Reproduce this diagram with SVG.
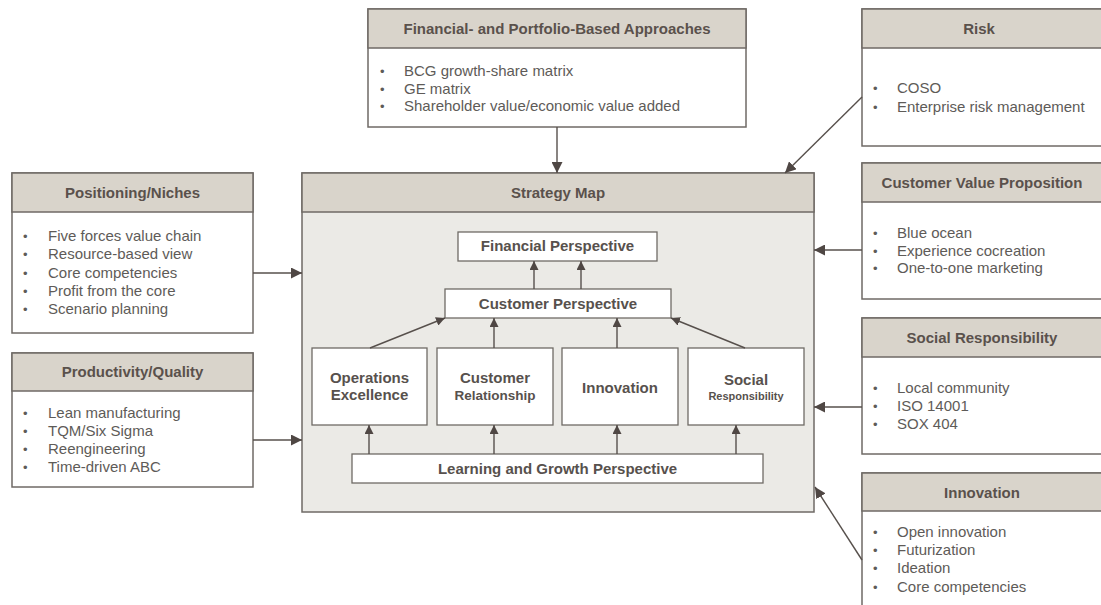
<svg xmlns="http://www.w3.org/2000/svg" width="1101" height="605" viewBox="0 0 1101 605">
<defs>
<style>
.box{fill:#ffffff;stroke:#6f6a66;stroke-width:1.5}
.hdr{fill:#d9d4cb;stroke:#6f6a66;stroke-width:1.5}
.map{fill:#ebeae6;stroke:#6f6a66;stroke-width:1.5}
.inner{fill:#ffffff;stroke:#6f6a66;stroke-width:1.3}
.ht{font-family:"Liberation Sans",Arial,sans-serif;font-weight:bold;font-size:15px;fill:#5a514c;text-anchor:middle}
.it{font-family:"Liberation Sans",Arial,sans-serif;font-size:15px;fill:#5e5b58}
.bl{font-family:"Liberation Sans",Arial,sans-serif;font-size:13px;fill:#5e5b58}
.nt{font-family:"Liberation Sans",Arial,sans-serif;font-weight:bold;font-size:15px;fill:#57514d;text-anchor:middle}
.con{fill:none;stroke:#57504c;stroke-width:1.4}
</style>
<marker id="ah" viewBox="0 0 10 10" refX="10" refY="5" markerWidth="11" markerHeight="11" markerUnits="userSpaceOnUse" orient="auto">
<path d="M0,0 L10,5 L0,10 z" fill="#4f4744"/>
</marker>
<marker id="ahs" viewBox="0 0 10 10" refX="10" refY="5" markerWidth="9" markerHeight="9" markerUnits="userSpaceOnUse" orient="auto">
<path d="M0,0 L10,5 L0,10 z" fill="#4f4744"/>
</marker>
</defs>
<rect width="1101" height="605" fill="#ffffff"/>

<g id="financial-approaches">
<rect class="box" x="368" y="9" width="378" height="118"/>
<rect class="hdr" x="368" y="9" width="378" height="39"/>
<text class="ht" x="557" y="34">Financial- and Portfolio-Based Approaches</text>
<text class="bl" x="380" y="76">•</text><text class="it" x="404" y="76">BCG growth-share matrix</text>
<text class="bl" x="380" y="94">•</text><text class="it" x="404" y="94">GE matrix</text>
<text class="bl" x="380" y="111">•</text><text class="it" x="404" y="111">Shareholder value/economic value added</text>
</g>

<g id="positioning">
<rect class="box" x="12" y="173" width="241" height="160"/>
<rect class="hdr" x="12" y="173" width="241" height="39"/>
<text class="ht" x="132.5" y="198">Positioning/Niches</text>
<text class="bl" x="23" y="241">•</text><text class="it" x="48" y="241">Five forces value chain</text>
<text class="bl" x="23" y="259">•</text><text class="it" x="48" y="259">Resource-based view</text>
<text class="bl" x="23" y="278">•</text><text class="it" x="48" y="278">Core competencies</text>
<text class="bl" x="23" y="296">•</text><text class="it" x="48" y="296">Profit from the core</text>
<text class="bl" x="23" y="314">•</text><text class="it" x="48" y="314">Scenario planning</text>
</g>

<g id="productivity">
<rect class="box" x="12" y="353" width="241" height="134"/>
<rect class="hdr" x="12" y="353" width="241" height="38"/>
<text class="ht" x="132.5" y="377">Productivity/Quality</text>
<text class="bl" x="23" y="418">•</text><text class="it" x="48" y="418">Lean manufacturing</text>
<text class="bl" x="23" y="436">•</text><text class="it" x="48" y="436">TQM/Six Sigma</text>
<text class="bl" x="23" y="454">•</text><text class="it" x="48" y="454">Reengineering</text>
<text class="bl" x="23" y="472">•</text><text class="it" x="48" y="472">Time-driven ABC</text>
</g>

<g id="risk">
<rect class="box" x="862" y="9" width="242" height="137"/>
<rect class="hdr" x="862" y="9" width="242" height="39"/>
<text class="ht" x="979" y="34">Risk</text>
<text class="bl" x="873" y="93">•</text><text class="it" x="897" y="93">COSO</text>
<text class="bl" x="873" y="112">•</text><text class="it" x="897" y="112">Enterprise risk management</text>
</g>

<g id="customer-value">
<rect class="box" x="862" y="163" width="242" height="136"/>
<rect class="hdr" x="862" y="163" width="242" height="39"/>
<text class="ht" x="982" y="188">Customer Value Proposition</text>
<text class="bl" x="873" y="238">•</text><text class="it" x="897" y="238">Blue ocean</text>
<text class="bl" x="873" y="256">•</text><text class="it" x="897" y="256">Experience cocreation</text>
<text class="bl" x="873" y="273">•</text><text class="it" x="897" y="273">One-to-one marketing</text>
</g>

<g id="social-responsibility">
<rect class="box" x="862" y="318" width="242" height="136"/>
<rect class="hdr" x="862" y="318" width="242" height="39"/>
<text class="ht" x="982" y="343">Social Responsibility</text>
<text class="bl" x="873" y="393">•</text><text class="it" x="897" y="393">Local community</text>
<text class="bl" x="873" y="411">•</text><text class="it" x="897" y="411">ISO 14001</text>
<text class="bl" x="873" y="429">•</text><text class="it" x="897" y="429">SOX 404</text>
</g>

<g id="innovation">
<rect class="box" x="862" y="473" width="242" height="140"/>
<rect class="hdr" x="862" y="473" width="242" height="38"/>
<text class="ht" x="982" y="498">Innovation</text>
<text class="bl" x="873" y="537">•</text><text class="it" x="897" y="537">Open innovation</text>
<text class="bl" x="873" y="555">•</text><text class="it" x="897" y="555">Futurization</text>
<text class="bl" x="873" y="573">•</text><text class="it" x="897" y="573">Ideation</text>
<text class="bl" x="873" y="592">•</text><text class="it" x="897" y="592">Core competencies</text>
</g>

<g id="strategy-map">
<rect class="map" x="302" y="173" width="512" height="339"/>
<rect class="hdr" x="302" y="173" width="512" height="39"/>
<text class="ht" x="558" y="198">Strategy Map</text>
</g>

<g id="financial-perspective">
<rect class="inner" x="458" y="232" width="199" height="29"/>
<text class="nt" x="557.5" y="251">Financial Perspective</text>
</g>
<g id="customer-perspective">
<rect class="inner" x="445" y="289" width="226" height="29"/>
<text class="nt" x="558" y="309">Customer Perspective</text>
</g>
<g id="operations-excellence">
<rect class="inner" x="312" y="348" width="115" height="77"/>
<text class="nt" x="369.5" y="383">Operations</text>
<text class="nt" x="369.5" y="400">Excellence</text>
</g>
<g id="customer-relationship">
<rect class="inner" x="437" y="348" width="116" height="77"/>
<text class="nt" x="495" y="383">Customer</text>
<text class="nt" x="495" y="400" style="font-size:13.5px">Relationship</text>
</g>
<g id="innovation-inner">
<rect class="inner" x="562" y="348" width="116" height="77"/>
<text class="nt" x="620" y="393">Innovation</text>
</g>
<g id="social-inner">
<rect class="inner" x="688" y="348" width="116" height="77"/>
<text class="nt" x="746" y="385">Social</text>
<text class="nt" x="746" y="400" style="font-size:11px">Responsibility</text>
</g>
<g id="learning-growth">
<rect class="inner" x="352" y="454" width="411" height="29"/>
<text class="nt" x="557.5" y="474">Learning and Growth Perspective</text>
</g>

<g id="connectors">
<line class="con" x1="557" y1="127" x2="557" y2="173" marker-end="url(#ah)"/>
<line class="con" x1="253" y1="273" x2="302" y2="273" marker-end="url(#ah)"/>
<line class="con" x1="253" y1="440" x2="302" y2="440" marker-end="url(#ah)"/>
<line class="con" x1="862" y1="97" x2="785" y2="173" marker-end="url(#ah)"/>
<line class="con" x1="862" y1="250" x2="814" y2="250" marker-end="url(#ah)"/>
<line class="con" x1="862" y1="407" x2="814" y2="407" marker-end="url(#ah)"/>
<line class="con" x1="862" y1="560" x2="815" y2="487" marker-end="url(#ah)"/>
<line class="con" x1="534" y1="289" x2="534" y2="261" marker-end="url(#ahs)"/>
<line class="con" x1="581" y1="289" x2="581" y2="261" marker-end="url(#ahs)"/>
<line class="con" x1="370" y1="348" x2="445" y2="318" marker-end="url(#ahs)"/>
<line class="con" x1="494" y1="348" x2="494" y2="318" marker-end="url(#ahs)"/>
<line class="con" x1="617" y1="348" x2="617" y2="318" marker-end="url(#ahs)"/>
<line class="con" x1="745" y1="348" x2="671" y2="318" marker-end="url(#ahs)"/>
<line class="con" x1="369" y1="454" x2="369" y2="425" marker-end="url(#ahs)"/>
<line class="con" x1="494" y1="454" x2="494" y2="425" marker-end="url(#ahs)"/>
<line class="con" x1="617" y1="454" x2="617" y2="425" marker-end="url(#ahs)"/>
<line class="con" x1="736" y1="454" x2="736" y2="425" marker-end="url(#ahs)"/>
</g>
</svg>
